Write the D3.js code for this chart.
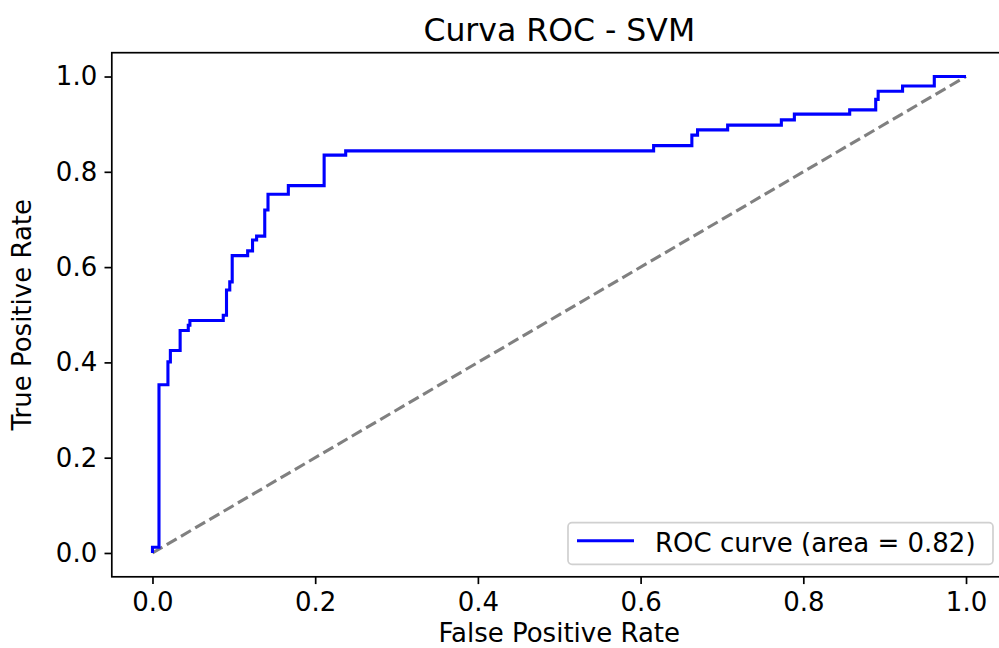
<!DOCTYPE html>
<html>
<head>
<meta charset="utf-8">
<script src="https://cdn.jsdelivr.net/npm/d3@7"></script>
<style>
  body { margin: 0; background: #fff; }
  svg { display: block; font-family: "DejaVu Sans", sans-serif; }
</style>
</head>
<body>
<div id="chart"></div>
<script>
// ROC points (false positive rate / true positive rate)
var fpr = [0, 0, 0.008, 0.008, 0.019, 0.019, 0.022, 0.022, 0.034, 0.034, 0.044, 0.044, 0.046, 0.046,
    0.087, 0.087, 0.091, 0.091, 0.095, 0.095, 0.098, 0.098, 0.117, 0.117, 0.123, 0.123, 0.128, 0.128,
    0.138, 0.138, 0.142, 0.142, 0.167, 0.167, 0.211, 0.211, 0.2375, 0.2375, 0.616, 0.616, 0.663, 0.663,
    0.670, 0.670, 0.707, 0.707, 0.773, 0.773, 0.789, 0.789, 0.857, 0.857, 0.889, 0.889, 0.892, 0.892,
    0.922, 0.922, 0.961, 0.961, 1]
var tpr = [0, 0.012, 0.012, 0.353, 0.353, 0.401, 0.401, 0.425, 0.425, 0.467, 0.467, 0.478, 0.478, 0.488,
    0.488, 0.499, 0.499, 0.552, 0.552, 0.569, 0.569, 0.624, 0.624, 0.634, 0.634, 0.657, 0.657, 0.665,
    0.665, 0.72, 0.72, 0.753, 0.753, 0.771, 0.771, 0.835, 0.835, 0.844, 0.844, 0.855, 0.855, 0.877,
    0.877, 0.888, 0.888, 0.898, 0.898, 0.909, 0.909, 0.921, 0.921, 0.930, 0.930, 0.952, 0.952, 0.969,
    0.969, 0.980, 0.980, 1.0, 1]
var chanceLine = [[0, 0], [1, 1]]
var ticks = [0, 0.2, 0.4, 0.6, 0.8, 1.0]
var aucLabel = 'ROC curve (area = 0.82)'

var width = 999
var height = 648
// axes box (matplotlib-like, right edge runs off the canvas)
// note: don't call these top/left globals, window.top is read-only
var axL = 111.8, axR = 1006.7, axT = 52.7, axB = 576.8
var fs = 26

var svg = d3.select('#chart').append('svg')
    .attr('width', width)
    .attr('height', height)

var x = d3.scaleLinear().domain([-0.05, 1.05]).range([axL, axR])
var y = d3.scaleLinear().domain([-0.05, 1.05]).range([axB, axT])

// plot lines
var line = d3.line()
    .x(function (d) { return x(d[0]) })
    .y(function (d) { return y(d[1]) })

svg.append('path')
    .datum(chanceLine)
    .attr('d', line)
    .attr('fill', 'none')
    .attr('stroke', 'gray')
    .attr('stroke-width', 3.1)
    .attr('stroke-dasharray', '11.5,5')

svg.append('path')
    .datum(fpr.map(function (f, i) { return [f, tpr[i]] }))
    .attr('d', line)
    .attr('fill', 'none')
    .attr('stroke', 'blue')
    .attr('stroke-width', 3.1)

// axes
var xAxis = d3.axisBottom(x).tickValues(ticks).tickFormat(d3.format('.1f'))
    .tickSizeInner(7.3).tickSizeOuter(0).tickPadding(7.3)
var yAxis = d3.axisLeft(y).tickValues(ticks).tickFormat(d3.format('.1f'))
    .tickSizeInner(7.3).tickSizeOuter(0).tickPadding(7.3)

var gx = svg.append('g').attr('transform', 'translate(0,' + axB + ')').call(xAxis)
var gy = svg.append('g').attr('transform', 'translate(' + axL + ',0)').call(yAxis)

var axesList = [gx, gy]
axesList.forEach(function (g) {
    g.select('.domain').remove()
    g.selectAll('line').attr('stroke', 'black').attr('stroke-width', 1.7)
    g.selectAll('text').attr('font-size', fs).attr('fill', 'black')
        .attr('font-family', '"DejaVu Sans", sans-serif')
})
gx.selectAll('text').attr('dy', '0.74em')

// spines
svg.append('rect')
    .attr('x', axL).attr('y', axT)
    .attr('width', axR - axL).attr('height', axB - axT)
    .attr('fill', 'none')
    .attr('stroke', 'black')
    .attr('stroke-width', 1.7)

// titles
svg.append('text')
    .attr('x', (axL + axR) / 2).attr('y', 41)
    .attr('text-anchor', 'middle')
    .attr('font-size', 31.5)
    .text('Curva ROC - SVM')

svg.append('text')
    .attr('x', (axL + axR) / 2).attr('y', 642)
    .attr('text-anchor', 'middle')
    .attr('font-size', fs)
    .text('False Positive Rate')

svg.append('text')
    .attr('transform', 'translate(22,' + ((axT + axB) / 2) + ') rotate(-90)')
    .attr('text-anchor', 'middle')
    .attr('dy', '0.36em')
    .attr('font-size', fs)
    .text('True Positive Rate')

// legend
var legend = svg.append('g')
legend.append('rect')
    .attr('x', 568).attr('y', 522.7)
    .attr('width', 425).attr('height', 41.6)
    .attr('rx', 4)
    .attr('fill', 'white').attr('fill-opacity', 0.8)
    .attr('stroke', '#d0d0d0').attr('stroke-width', 1.7)
legend.append('line')
    .attr('x1', 577).attr('x2', 634)
    .attr('y1', 540.7).attr('y2', 540.7)
    .attr('stroke', 'blue').attr('stroke-width', 3.1)
legend.append('text')
    .attr('x', 655).attr('y', 552)
    .attr('font-size', fs)
    .text(aucLabel)
</script>
</body>
</html>
